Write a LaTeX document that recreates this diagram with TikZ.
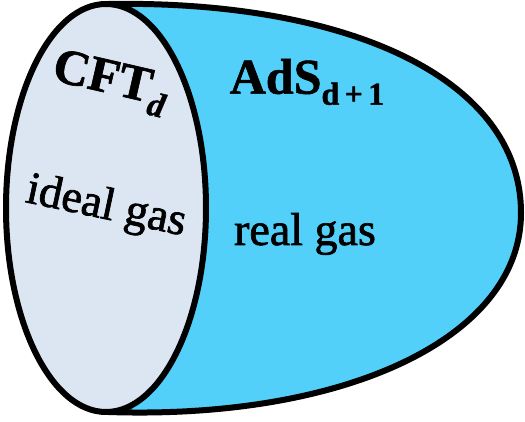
\documentclass[tikz,border=0pt]{standalone}
\usepackage{fontspec}
\setmainfont{Liberation Serif}
\newfontfamily\medserif[FakeBold=1.5]{Liberation Serif}
\newfontfamily\heavyserif[FakeBold=1.2]{Liberation Serif Bold}
\definecolor{bulbcyan}{RGB}{82,208,250}
\definecolor{diskgray}{RGB}{220,230,243}
\tikzset{
  outline/.style={draw=black,line width=6pt,line join=round},
  lbl/.style={inner sep=0pt,text=black,anchor=center}
}
\begin{document}
\begin{tikzpicture}[x=1pt,y=1pt]
\useasboundingbox (0,0) rectangle (525,422);
% bulk (AdS)
\path[outline,fill=bulbcyan]
  (108,418) .. controls (345,422) and (521,345) .. (521,209)
  .. controls (521,84) and (345,2) .. (108,10) -- cycle;
% boundary disk (CFT)
\path[outline,fill=diskgray] (106,214) ellipse [x radius=100,y radius=204];
% labels
\node[lbl,rotate=-13] (cft) at (110,339)
  {\heavyserif\fontsize{50}{54}\selectfont CFT\raisebox{-12pt}{\fontsize{34}{38}\selectfont\bfseries\itshape d}};
\node[lbl,rotate=-12] (ideal) at (106,214)
  {\medserif\fontsize{46}{50}\selectfont ideal gas};
\node[lbl] (ads) at (307,340)
  {\heavyserif\fontsize{50}{56}\selectfont AdS\raisebox{-11pt}{\fontsize{32}{36}\selectfont d\,+\,1}};
\node[lbl] (real) at (305,188)
  {\medserif\fontsize{46}{50}\selectfont real gas};
\end{tikzpicture}
\end{document}
